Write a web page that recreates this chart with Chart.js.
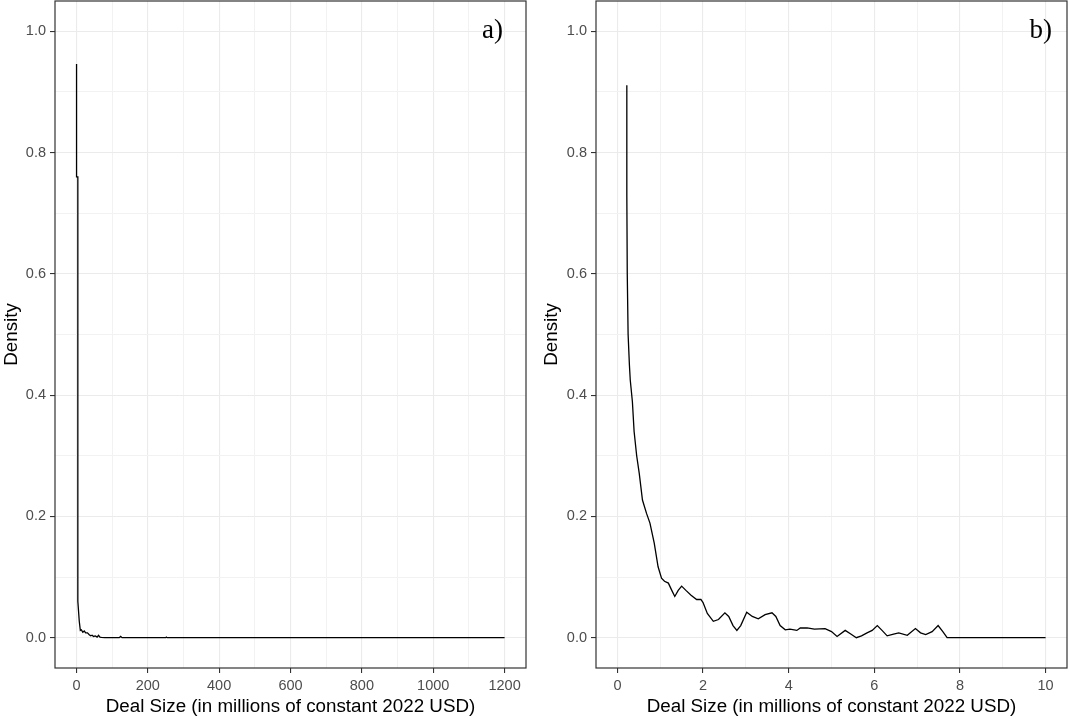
<!DOCTYPE html>
<html>
<head>
<meta charset="utf-8">
<script src="https://cdn.jsdelivr.net/npm/chart.js@4/dist/chart.umd.min.js"></script>
<style>
  body { margin: 0; background: #fff; }
  #wrap { position: relative; width: 1069px; height: 719px; }
  #chartA { position: absolute; left: 0; top: 0; }
  #chartB { position: absolute; left: 540px; top: 0; }
</style>
</head>
<body>
<div id="wrap">
  <canvas id="chartA" width="540" height="719"></canvas>
  <canvas id="chartB" width="529" height="719"></canvas>
</div>
<script>
// panel a) – full range
const aX = [0.4, 0.4, 4, 4, 8, 11, 14, 18, 22, 26, 31, 36, 40, 44, 48, 53, 58, 62, 66, 70, 80, 120, 124, 128, 250, 252, 254, 1200];
const aY = [0.946, 0.76, 0.76, 0.06, 0.027, 0.012, 0.013, 0.009, 0.011, 0.008, 0.008, 0.005, 0.003, 0.004, 0.002, 0.003, 0.001, 0.004, 0.001, 0.0005, 0, 0, 0.002, 0, 0, 0.001, 0, 0];

// panel b) – deals up to 10 million
const bX = [0.22, 0.22, 0.23, 0.25, 0.28, 0.30, 0.35, 0.39, 0.45, 0.51, 0.585, 0.68, 0.76, 0.86, 0.95, 1.03, 1.1, 1.19, 1.27, 1.34, 1.42, 1.5, 1.6, 1.72, 1.85, 1.95, 2.0, 2.1, 2.24, 2.36, 2.51, 2.6, 2.7, 2.79, 2.88, 3.02, 3.15, 3.29, 3.45, 3.61, 3.7, 3.8, 3.92, 4.03, 4.19, 4.27, 4.43, 4.6, 4.85, 5.0, 5.13, 5.32, 5.45, 5.58, 5.7, 5.83, 5.95, 6.07, 6.18, 6.30, 6.45, 6.57, 6.77, 6.96, 7.08, 7.2, 7.35, 7.49, 7.6, 7.7, 10.0];
const bY = [0.911, 0.73, 0.60, 0.50, 0.45, 0.425, 0.389, 0.34, 0.30, 0.271, 0.227, 0.205, 0.189, 0.156, 0.117, 0.098, 0.093, 0.09, 0.078, 0.068, 0.078, 0.085, 0.078, 0.07, 0.063, 0.063, 0.058, 0.04, 0.027, 0.03, 0.041, 0.035, 0.02, 0.012, 0.02, 0.042, 0.035, 0.031, 0.038, 0.041, 0.035, 0.02, 0.013, 0.014, 0.012, 0.016, 0.016, 0.014, 0.015, 0.01, 0.002, 0.012, 0.006, 0, 0.003, 0.008, 0.012, 0.02, 0.012, 0.003, 0.006, 0.008, 0.004, 0.015, 0.008, 0.005, 0.01, 0.02, 0.01, 0, 0];

const aXMajor = [0, 200, 400, 600, 800, 1000, 1200];
const aXMinor = [100, 300, 500, 700, 900, 1100];
const bXMajor = [0, 2, 4, 6, 8, 10];
const bXMinor = [1, 3, 5, 7, 9];
const yMajor = [0, 0.2, 0.4, 0.6, 0.8, 1.0];
const yMinor = [0.1, 0.3, 0.5, 0.7, 0.9];

const xTitle = "Deal Size (in millions of constant 2022 USD)";
const yTitle = "Density";

const TICK_FONT = { family: "Liberation Sans, Arial, sans-serif", size: 14.5 };
const TITLE_FONT = { family: "Liberation Sans, Arial, sans-serif", size: 18.8 };

// full panel border like theme_bw + the a)/b) tag
const panelPlugin = {
  id: "panel",
  afterDraw(chart, args, opts) {
    const { ctx, chartArea: a } = chart;
    ctx.save();
    ctx.strokeStyle = "#333333";
    ctx.lineWidth = 1.2;
    ctx.strokeRect(a.left, a.top, a.right - a.left, a.bottom - a.top);
    ctx.fillStyle = "#000";
    ctx.font = "27px 'Liberation Serif', 'Times New Roman', serif";
    ctx.textAlign = "right";
    ctx.textBaseline = "alphabetic";
    ctx.fillText(opts.tag, a.right - opts.tagRight, a.top + 37);
    ctx.restore();
  }
};

function axis(major, minor, min, max, fmt, isX, size) {
  return {
    type: "linear",
    min: min,
    max: max,
    afterBuildTicks(scale) {
      scale.ticks = major.concat(minor).sort((p, q) => p - q).map((v) => ({ value: v }));
    },
    afterFit(scale) {
      if (isX) scale.height = size; else scale.width = size;
      scale.paddingTop = 0;
      scale.paddingBottom = 0;
      scale.paddingLeft = 0;
      scale.paddingRight = 0;
    },
    border: { display: false },
    grid: {
      color: (c) => (major.includes(c.tick.value) ? "#EBEBEB" : "#F2F2F2"),
      lineWidth: (c) => (major.includes(c.tick.value) ? 1.1 : 1),
      tickColor: (c) => (major.includes(c.tick.value) ? "#333333" : "rgba(0,0,0,0)"),
      tickLength: 5,
      tickWidth: 1.1
    },
    ticks: {
      autoSkip: false,
      maxRotation: 0,
      padding: 4,
      color: "#4D4D4D",
      font: TICK_FONT,
      callback: (v) => (major.includes(v) ? fmt(v) : "")
    },
    title: {
      display: true,
      text: isX ? xTitle : yTitle,
      color: "#000",
      font: TITLE_FONT,
      padding: isX ? { top: 0, bottom: 1 } : { top: 1, bottom: 0 }
    }
  };
}

function makeChart(id, xs, ys, xMajor, xMinor, xMin, xMax, yWidth, rightPad, tag, tagRight) {
  const pts = xs.map((x, i) => ({ x: x, y: ys[i] }));
  return new Chart(document.getElementById(id).getContext("2d"), {
    type: "line",
    data: {
      datasets: [{
        data: pts,
        borderColor: "#000",
        borderWidth: 1.3,
        pointRadius: 0,
        tension: 0,
        fill: false
      }]
    },
    options: {
      responsive: false,
      animation: false,
      layout: { padding: { top: 1, right: rightPad, bottom: 0, left: 0 } },
      plugins: {
        legend: { display: false },
        tooltip: { enabled: false },
        panel: { tag: tag, tagRight: tagRight }
      },
      scales: {
        x: axis(xMajor, xMinor, xMin, xMax, (v) => String(v), true, 51),
        y: axis(yMajor, yMinor, -0.05, 1.05, (v) => v.toFixed(1), false, yWidth)
      }
    },
    plugins: [panelPlugin]
  });
}

makeChart("chartA", aX, aY, aXMajor, aXMinor, -60, 1260, 55, 14, "a)", 23);
makeChart("chartB", bX, bY, bXMajor, bXMinor, -0.5, 10.5, 56, 2, "b)", 15);
</script>
</body>
</html>
